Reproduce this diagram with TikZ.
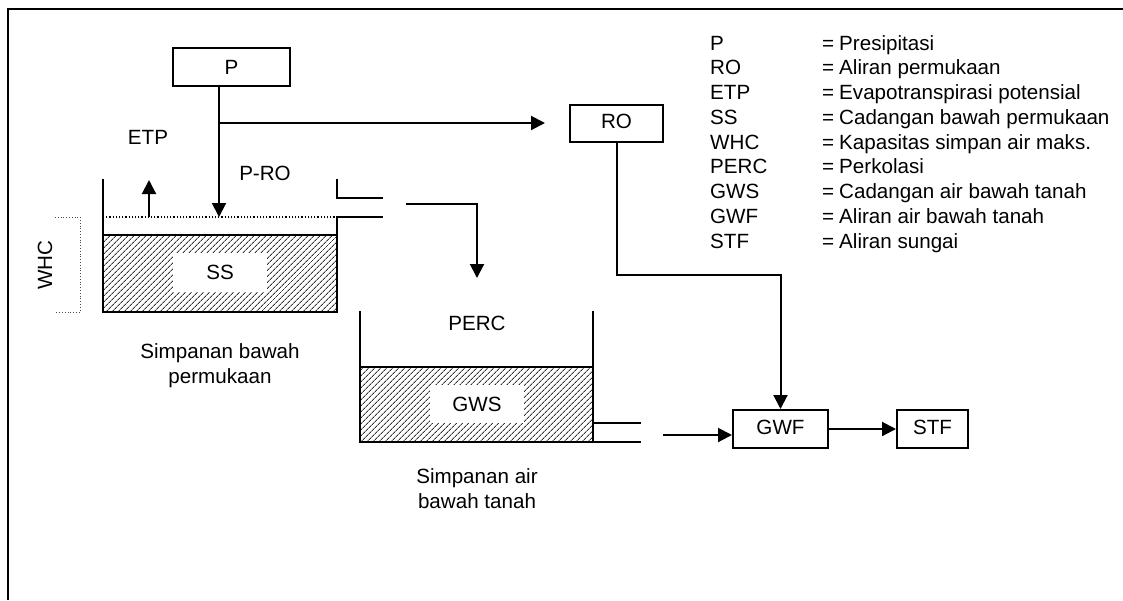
\documentclass[tikz,border=0pt]{standalone}
\usepackage{fontspec}
\setmainfont{Liberation Sans}
\usetikzlibrary{arrows.meta,patterns.meta,calc}
\begin{document}
\begin{tikzpicture}[x=1pt,y=-1pt,
  font=\fontsize{20.6}{25}\selectfont,
  ln/.style={line width=2pt},
  arr/.style={line width=2pt,-{Triangle[length=14pt,width=14pt]}},
  box/.style={draw,line width=2pt,rectangle,inner sep=0pt},
  lbl/.style={inner sep=0pt},
  whitebox/.style={fill=white,inner sep=0pt},
  hatch/.style={pattern={Lines[angle=45,distance=4pt,line width=1pt]},pattern color=black!80},
  dots/.style={line width=1.2pt,dotted}
]
\useasboundingbox (0,0) rectangle (1123,600);
% frame
\draw[line width=2pt] (8,600) -- (8,9) -- (1123,9);

% boxes
\node[box,minimum width=117pt,minimum height=38pt] (P) at (231.5,67) {P};
\node[box,minimum width=93pt,minimum height=37pt,text depth=4pt] (RO) at (616.5,123.5) {RO};
\node[box,minimum width=95pt,minimum height=38pt,text depth=4pt] (GWF) at (780.5,429) {GWF};
\node[box,minimum width=71pt,minimum height=38pt,text depth=4pt] (STF) at (932.5,429) {STF};

% tank 1 (surface storage)
\fill[hatch] (103,235) rectangle (337,312);
\draw[ln] (103,179) -- (103,312) -- (337,312) -- (337,217) -- (383,217);
\draw[ln] (103,235) -- (337,235);
\draw[ln] (337,179) -- (337,198) -- (383,198);
\draw[dots] (103,217) -- (337,217);
\node[whitebox,minimum width=94pt,minimum height=39pt] (SS) at (220,272.5) {SS};
% WHC bracket
\draw[line width=0.8pt,dotted,black!70] (55,217) -- (80,217) -- (80,312) -- (55,312);
\node[lbl,rotate=90] (WHC) at (45,265) {WHC};

% tank 2 (groundwater storage)
\fill[hatch] (360,367) rectangle (593,442);
\draw[ln] (360,311) -- (360,442) -- (641,442);
\draw[ln] (593,311) -- (593,442);
\draw[ln] (360,367) -- (593,367);
\draw[ln] (593,423) -- (641,423);
\node[whitebox,minimum width=94pt,minimum height=38pt] (GWS) at (477,404) {GWS};

% labels
\node[lbl] (ETP) at (148,137) {ETP};
\node[lbl] (PRO) at (265,173) {P-RO};
\node[lbl] (PERC) at (477,323) {PERC};
\node[lbl,align=center] (S1) at (220,366) {Simpanan bawah\\permukaan};
\node[lbl,align=center] (S2) at (477,489) {Simpanan air\\bawah tanah};

% coordinates
\coordinate (Pout) at (219,86);
\coordinate (split) at (219,123);
\coordinate (SSin) at (219,217);
\coordinate (ROin) at (545,123);
\coordinate (ETPa) at (149,217);
\coordinate (ETPb) at (149,180);
\coordinate (pipeA) at (406,204);
\coordinate (pipeB) at (477,204);
\coordinate (PERCin) at (477,278);
\coordinate (ROk1) at (617,275);
\coordinate (ROk2) at (780.5,275);
\coordinate (GWin) at (663,435);

% connectors
\draw[arr] (Pout) -- (SSin);
\draw[arr] (split) -- (ROin);
\draw[arr] (ETPa) -- (ETPb);
\draw[arr] (pipeA) -- (pipeB) -- (PERCin);
\draw[arr] (RO.south -| ROk1) -- (ROk1) -- (ROk2) -- (GWF.north);
\draw[arr] (GWin) -- (GWin -| GWF.west);
\draw[arr] (GWF.east) -- (STF.west);

% legend
\foreach \a/\b [count=\i] in {P/Presipitasi,RO/Aliran permukaan,ETP/Evapotranspirasi potensial,SS/Cadangan bawah permukaan,WHC/Kapasitas simpan air maks.,PERC/Perkolasi,GWS/Cadangan air bawah tanah,GWF/Aliran air bawah tanah,STF/Aliran sungai}{
  \node[lbl,anchor=base west] (L\i) at (710,{50+(\i-1)*24.75}) {\a};
  \node[lbl,anchor=base west] (E\i) at (822,{50+(\i-1)*24.75}) {=};
  \node[lbl,anchor=base west] (D\i) at (839,{50+(\i-1)*24.75}) {\b};
}
\end{tikzpicture}
\end{document}
